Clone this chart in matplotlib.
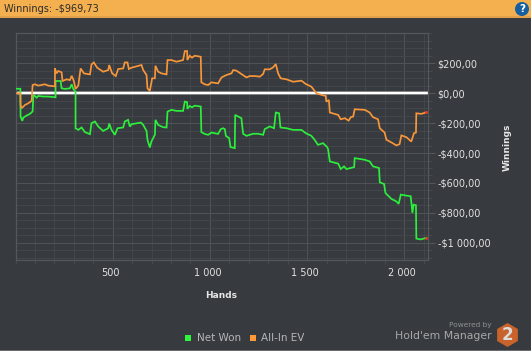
import matplotlib
matplotlib.use('Agg')
import matplotlib.pyplot as plt
from matplotlib.patches import Rectangle, Circle, RegularPolygon
from matplotlib.ticker import MultipleLocator, FixedLocator
from matplotlib.transforms import ScaledTranslation

# -----------------------------
# Datos
# -----------------------------
hands_won = [0, 25, 26, 35, 40, 57, 74, 88, 92, 109, 117, 143, 169, 206, 206, 232, 237, 254, 280, 289, 297, 309, 309,
             323, 340, 357, 383, 391, 409, 426, 451, 477, 482, 494, 511, 525, 554, 562, 579, 588, 597, 645, 657, 674,
             679, 691, 699, 717, 720, 734, 759, 777, 782, 802, 828, 862, 871, 883, 884, 896, 908, 922, 953, 956, 973,
             991, 1008, 1042, 1056, 1068, 1077, 1082, 1099, 1106, 1128, 1130, 1162, 1171, 1188, 1222, 1248, 1274,
             1282, 1308, 1330, 1339, 1356, 1363, 1394, 1428, 1471, 1493, 1522, 1539, 1556, 1582, 1603, 1608, 1617,
             1660, 1673, 1690, 1702, 1725, 1742, 1745, 1797, 1822, 1839, 1870, 1874, 1896, 1903, 1934, 1959, 1971,
             1982, 2011, 2033, 2042, 2048, 2060, 2062, 2084, 2113]
net_won = [30, 30, -156, -185, -163, -149, -138, -122, -11, -29, -18, -22, -22, -27, 82, 82, 33, 29, 33, 60, 29, 11,
           -234, -245, -229, -260, -274, -200, -189, -223, -252, -234, -203, -245, -278, -234, -229, -189, -178, -223,
           -207, -196, -212, -252, -312, -363, -323, -278, -178, -212, -227, -229, -123, -111, -118, -118, -56, -60,
           -105, -85, -94, -83, -89, -260, -272, -278, -263, -272, -240, -234, -240, -285, -300, -360, -367, -145,
           -167, -271, -285, -271, -271, -278, -240, -222, -234, -129, -134, -229, -234, -245, -245, -267, -285, -312,
           -345, -334, -360, -374, -456, -471, -507, -489, -507, -500, -494, -434, -445, -456, -489, -500, -596, -607,
           -667, -707, -723, -740, -678, -685, -689, -800, -745, -749, -972, -978, -967]

hands_ev = [0, 25, 26, 32, 49, 66, 83, 88, 100, 117, 151, 169, 203, 203, 211, 220, 237, 242, 263, 280, 289, 300, 309,
            323, 335, 352, 383, 391, 403, 420, 451, 477, 482, 497, 516, 528, 554, 562, 576, 583, 597, 648, 657, 674,
            679, 691, 703, 717, 720, 734, 751, 777, 782, 802, 828, 862, 871, 883, 884, 896, 908, 922, 953, 956, 973,
            991, 1008, 1042, 1060, 1085, 1111, 1120, 1137, 1157, 1188, 1205, 1231, 1257, 1274, 1282, 1308, 1325, 1339,
            1351, 1364, 1394, 1428, 1471, 1493, 1522, 1548, 1574, 1596, 1599, 1612, 1617, 1660, 1673, 1694, 1714, 1725,
            1737, 1745, 1797, 1822, 1839, 1865, 1874, 1899, 1908, 1934, 1959, 1976, 1985, 2011, 2036, 2050, 2060, 2062,
            2088, 2113]
all_in_ev = [0, 0, -80, -100, -78, -67, -51, 55, 60, 51, 60, 51, 46, 166, 133, 149, 140, 82, 93, 88, 117, 82, 29, 51,
             166, 133, 126, 193, 206, 171, 144, 155, 189, 133, 115, 162, 166, 206, 206, 162, 171, 189, 155, 122, 33,
             15, 100, 100, 184, 144, 133, 126, 222, 222, 211, 222, 282, 282, 222, 251, 238, 251, 244, 73, 60, 55, 73,
             66, 106, 122, 133, 155, 151, 133, 106, 115, 115, 111, 129, 160, 160, 173, 195, 133, 100, 93, 77, 84, 62,
             44, 0, -11, -18, -56, -45, -129, -145, -174, -167, -183, -160, -156, -107, -111, -129, -160, -174, -234,
             -263, -311, -329, -349, -340, -282, -294, -323, -267, -263, -134, -138, -127]

x_ticks = [500, 1000, 1500, 2000]
x_labels = ['500', '1 000', '1 500', '2 000']
y_ticks = [200, 0, -200, -400, -600, -800, -1000]
y_labels = ['$200,00', '$0,00', '-$200,00', '-$400,00', '-$600,00', '-$800,00', '-$1 000,00']

W, H = 531, 351
BG = '#373a3e'
GREEN = '#2cee3c'
ORANGE = '#f7963a'
plt.rcParams['font.family'] = ['DejaVu Sans']

fig = plt.figure(figsize=(W / 100, H / 100), dpi=100, facecolor=BG)

# capa de fondo en pixeles: cabecera, logo, leyenda
deco = fig.add_axes([0, 0, 1, 1], zorder=0)
deco.set_xlim(0, W)
deco.set_ylim(H, 0)
deco.axis('off')
deco.add_patch(Rectangle((0, 0), W, 18, color='#f4b04f', lw=0))
deco.add_patch(Rectangle((0, 15.5), W, 2.5, color='#e0a148', lw=0))
deco.add_patch(Rectangle((0, 350), W, 1, color='#6a6c6f', lw=0))
deco.text(4, 8.5, 'Winnings: -$969,73', color='#2b2b2b', fontsize=7, va='center', ha='left')
deco.add_patch(Circle((522, 9), 7, color='#17609f', lw=0))
deco.text(522, 9, '?', color='white', fontsize=7.5, fontweight='bold', ha='center', va='center')

deco.add_patch(Rectangle((185, 335), 6, 6, color='#2ff53f', lw=0))
deco.text(197, 338, 'Net Won', color='#b5b7b8', fontsize=7.5, va='center', ha='left')
deco.add_patch(Rectangle((250, 335), 6, 6, color='#ff9a38', lw=0))
deco.text(261, 338, 'All-In EV', color='#b5b7b8', fontsize=7.5, va='center', ha='left')

deco.text(492, 325, 'Powered by', color='#8f9193', fontsize=5.3, va='center', ha='right')
deco.text(492, 336, "Hold'em Manager", color='#a6a8a9', fontsize=7.8, va='center', ha='right')
deco.add_patch(RegularPolygon((507.5, 335), 6, radius=12, color='#c8632b', lw=0))
deco.text(507.5, 335, '2', color='#dcdcdc', fontsize=12, fontweight='bold', ha='center', va='center')

deco.text(221, 296, 'Hands', color='#e6e6e6', fontsize=6.5, fontweight='bold', ha='center', va='center')
deco.text(507, 147, 'Winnings', color='#e6e6e6', fontsize=6.5, fontweight='bold', rotation=90, ha='center', va='center')

# -----------------------------
# Grafico principal
# -----------------------------
left, right, top, bottom = 15.5, 428, 33, 259.5
ax = fig.add_axes([left / W, 1 - bottom / H, (right - left) / W, (bottom - top) / H], zorder=1)
ax.patch.set_alpha(0)
ax.set_xlim(0, 2122)
ax.set_ylim(-1112, 403)

ax.xaxis.set_major_locator(FixedLocator(x_ticks))
ax.xaxis.set_minor_locator(MultipleLocator(100))
ax.yaxis.set_major_locator(FixedLocator(y_ticks))
ax.yaxis.set_minor_locator(MultipleLocator(50))
ax.set_xticklabels(x_labels)
ax.set_yticklabels(y_labels)
ax.yaxis.tick_right()

ax.grid(True, which='major', color='#505356', lw=0.75)
ax.grid(True, which='minor', color='#45484c', lw=0.6)
ax.set_axisbelow(True)
for s in ax.spines.values():
    s.set_color('#55585b')
    s.set_linewidth(0.9)

ax.tick_params(axis='x', which='major', length=0, pad=5.8, labelsize=7, labelcolor='#e2e2e2')
ax.tick_params(axis='x', which='minor', length=3.2, color='#4a4d50', width=0.6)
ax.tick_params(axis='y', which='major', length=5, color='#55585b', width=0.75, pad=2, labelsize=7, labelcolor='#e2e2e2')
ax.tick_params(axis='y', which='minor', length=2.8, color='#4a4d50', width=0.6)

# las etiquetas del eje x van un poco a la izquierda del tick
shift = ScaledTranslation(-2.5 / 100, 0, fig.dpi_scale_trans)
for lab in ax.get_xticklabels():
    lab.set_transform(lab.get_transform() + shift)

ax.axhline(0, color='#8e9092', lw=2.6, zorder=2)
ax.axhline(0, color='white', lw=1.5, zorder=2.1)

ax.plot(hands_won, net_won, color=GREEN, lw=1.25, zorder=3, solid_joinstyle='miter')
ax.plot(hands_ev, all_in_ev, color=ORANGE, lw=1.25, zorder=3.1, solid_joinstyle='miter')
ax.plot(hands_won[-1], net_won[-1], 's', color='#e8352a', ms=1, zorder=4)
ax.plot(hands_ev[-1], all_in_ev[-1], 's', color='#e8352a', ms=1, zorder=4)

fig.savefig('out.png', dpi=100, facecolor=BG)
